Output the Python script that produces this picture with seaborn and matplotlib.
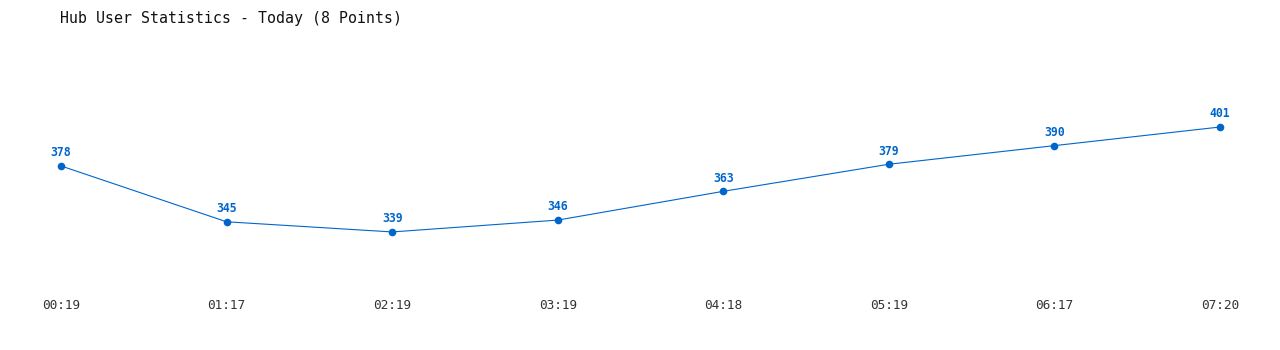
import matplotlib
matplotlib.use("Agg")
import matplotlib.pyplot as plt
import seaborn as sns
import pandas as pd

times = ["00:19", "01:17", "02:19", "03:19", "04:18", "05:19", "06:17", "07:20"]
users = [378, 345, 339, 346, 363, 379, 390, 401]

sns.set_theme(style="white")
plt.rcParams['font.family'] = ['DejaVu Sans Mono', 'DejaVu Sans']

df = pd.DataFrame({"idx": list(range(len(times))), "users": users})

fig = plt.figure(figsize=(12.8, 3.5), dpi=100)
ax = fig.add_axes([61/1280, 1 - 280/350, (1220 - 61)/1280, 220/350])
color = "#0066CC"
sns.lineplot(data=df, x="idx", y="users", ax=ax, color=color, linewidth=0.8,
             marker="o", markersize=5.5, markeredgewidth=0, markerfacecolor=color)
for ln in ax.lines:
    ln.set_clip_on(False)

for i, v in enumerate(users):
    ax.annotate(str(v), (i, v), xytext=(0, 9.5), textcoords="offset points",
                ha="center", va="center", fontsize=8.3, fontweight="bold", color=color)

ax.set_xlim(0, len(times) - 1)
ax.set_ylim(310.6, 440.6)
ax.set_xticks(range(len(times)))
ax.set_xticklabels(times)
ax.set_yticks([])
ax.tick_params(axis="x", length=0, pad=14, labelsize=9.2, labelcolor="#333333")
ax.set_xlabel("")
ax.set_ylabel("")
for s in ax.spines.values():
    s.set_visible(False)
ax.patch.set_alpha(0)

fig.text(60/1280, 1 - 18/350, "Hub User Statistics - Today (8 Points)", ha="left", va="center",
         fontsize=10.7, color="#111111")

fig.savefig("out.png", dpi=100, facecolor="white")
